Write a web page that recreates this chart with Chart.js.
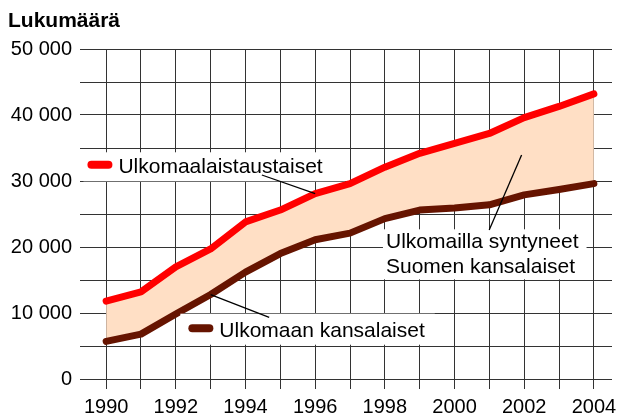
<!DOCTYPE html>
<html>
<head>
<meta charset="utf-8">
<script src="https://cdn.jsdelivr.net/npm/chart.js@4/dist/chart.umd.min.js"></script>
<style>
  html, body { margin: 0; padding: 0; background: #fff; }
  canvas { display: block; }
</style>
</head>
<body>
<canvas id="myChart" width="618" height="417"></canvas>
<script>
var FONT = '"Liberation Sans", Arial, sans-serif';

// Data
var years = [1990, 1991, 1992, 1993, 1994, 1995, 1996, 1997, 1998, 1999, 2000, 2001, 2002, 2003, 2004];
var ulkomaalaistaustaiset = [11800, 13200, 17000, 19700, 23800, 25600, 28100, 29600, 32100, 34200, 35700, 37200, 39600, 41300, 43200];
var ulkomaanKansalaiset = [5700, 6800, 9850, 12800, 16200, 19000, 21100, 22100, 24300, 25600, 25900, 26400, 27900, 28700, 29600];

var xLabelYears = [1990, 1992, 1994, 1996, 1998, 2000, 2002, 2004];
var yLabelValues = [0, 10000, 20000, 30000, 40000, 50000];
var yTitle = 'Lukumäärä';

// Callouts: text anchor, key stroke, leader line (all in data coordinates)
var callouts = [
    {
        lines: ['Ulkomaalaistaustaiset'],
        at: [1990.353, 31167],
        key: '#ff0000',
        pad: [35, 21, 22, 8],
        from: [1994.47, 30909],
        to: [years[6], ulkomaalaistaustaiset[6]]
    },
    {
        lines: ['Ulkomaan kansalaiset'],
        at: [1993.25, 6409],
        key: '#661400',
        pad: [39, 23, 10, 8],
        from: [1994.68, 9348],
        to: [years[3], ulkomaanKansalaiset[3]]
    },
    {
        lines: ['Ulkomailla syntyneet', 'Suomen kansalaiset'],
        at: [1998.032, 19803],
        key: null,
        pad: [3, 19, 8, 6],
        from: [2000.995, 22576],
        to: [2001.925, 33939]
    }
];

function spaced(v) {
    return String(v).replace(/\B(?=(\d{3})+(?!\d))/g, ' ');
}

function points(values) {
    return years.map(function (yr, i) { return { x: yr, y: values[i] }; });
}

var calloutPlugin = {
    id: 'callouts',
    afterDatasetsDraw: function (chart) {
        var ctx = chart.ctx;
        var xs = chart.scales.x, ys = chart.scales.y;
        var px = function (v) { return xs.getPixelForValue(v); };
        var py = function (v) { return ys.getPixelForValue(v); };
        ctx.save();
        ctx.font = '21px ' + FONT;
        callouts.forEach(function (c) {
            var tx = px(c.at[0]), ty = py(c.at[1]);
            var w = Math.max.apply(null, c.lines.map(function (l) { return ctx.measureText(l).width; }));
            var lastBase = ty + (c.lines.length - 1) * 25;
            // white box behind the text
            ctx.fillStyle = '#fff';
            ctx.fillRect(tx - c.pad[0], ty - c.pad[1], w + c.pad[0] + c.pad[2], lastBase - ty + c.pad[1] + c.pad[3]);
            // leader line
            ctx.strokeStyle = '#000';
            ctx.lineWidth = 1.3;
            ctx.lineCap = 'butt';
            ctx.beginPath();
            ctx.moveTo(px(c.from[0]), py(c.from[1]));
            ctx.lineTo(px(c.to[0]), py(c.to[1]));
            ctx.stroke();
            // key stroke
            if (c.key) {
                ctx.strokeStyle = c.key;
                ctx.lineWidth = 8;
                ctx.lineCap = 'round';
                ctx.beginPath();
                ctx.moveTo(tx - 27, ty - 8.5);
                ctx.lineTo(tx - 10, ty - 8.5);
                ctx.stroke();
            }
            ctx.fillStyle = '#000';
            ctx.textBaseline = 'alphabetic';
            ctx.textAlign = 'left';
            c.lines.forEach(function (l, i) { ctx.fillText(l, tx, ty + i * 25); });
        });
        // axis title
        ctx.font = 'bold 21px ' + FONT;
        ctx.fillText(yTitle, 8, 27);
        ctx.restore();
    }
};

var ctx = document.getElementById('myChart').getContext('2d');

var chart = new Chart(ctx, {
    type: 'line',
    data: {
        datasets: [{
            label: 'Ulkomaalaistaustaiset',
            data: points(ulkomaalaistaustaiset),
            borderColor: '#ff0000',
            borderWidth: 7,
            fill: false,
            pointRadius: 0,
            tension: 0,
            borderCapStyle: 'round',
            borderJoinStyle: 'round'
        }, {
            // the band between the two lines
            label: 'Ulkomaan kansalaiset',
            data: points(ulkomaanKansalaiset),
            borderColor: '#661400',
            backgroundColor: '#ffdfc5',
            borderWidth: 7,
            fill: '-1',
            pointRadius: 0,
            tension: 0,
            borderCapStyle: 'round',
            borderJoinStyle: 'round'
        }]
    },
    options: {
        responsive: false,
        animation: false,
        layout: { padding: { top: 49, right: 6, left: 0, bottom: 0 } },
        plugins: {
            legend: { display: false },
            tooltip: { enabled: false }
        },
        scales: {
            x: {
                type: 'linear',
                min: 1989.25,
                max: 2004.52,
                afterBuildTicks: function (scale) {
                    scale.ticks = years.map(function (yr) { return { value: yr }; });
                },
                afterFit: function (scale) {
                    scale.height = 38;
                    scale.paddingLeft = 0;
                    scale.paddingRight = 0;
                },
                grid: { color: '#333', lineWidth: 1, tickLength: 10, drawTicks: true },
                border: { display: false },
                ticks: {
                    stepSize: 1,
                    maxTicksLimit: 100,
                    autoSkip: false,
                    maxRotation: 0,
                    padding: 6,
                    color: '#000',
                    font: { family: FONT, size: 20 },
                    callback: function (v) { return xLabelYears.indexOf(v) >= 0 ? String(v) : ''; }
                }
            },
            y: {
                min: 0,
                max: 50000,
                afterFit: function (scale) {
                    scale.width = 80;
                    scale.paddingTop = 0;
                    scale.paddingBottom = 0;
                },
                grid: { color: '#333', lineWidth: 1, drawTicks: false },
                border: { display: false },
                ticks: {
                    stepSize: 5000,
                    autoSkip: false,
                    padding: 8,
                    color: '#000',
                    font: { family: FONT, size: 20 },
                    callback: function (v) { return yLabelValues.indexOf(v) >= 0 ? spaced(v) : ''; }
                }
            }
        }
    },
    plugins: [calloutPlugin]
});
</script>
</body>
</html>
